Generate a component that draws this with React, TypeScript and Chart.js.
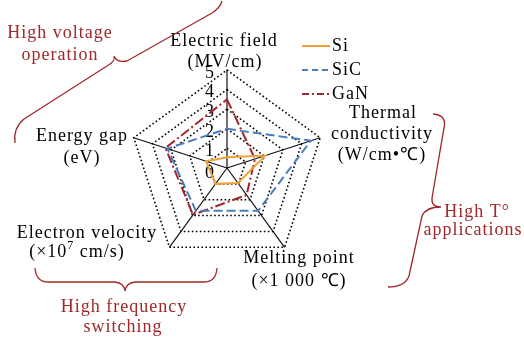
import React, { useEffect, useRef } from 'react';
import { Chart, registerables } from 'chart.js';

Chart.register(...registerables);

const categories = ['Electric field', 'Thermal conductivity', 'Melting point', 'Electron velocity', 'Energy gap'];
const seriesNames = ['Si', 'SiC', 'GaN'];
const siValues = [0.55, 2.05, 0.95, 1.0, 1.12];
const sicValues = [2.0, 4.5, 2.7, 2.7, 3.2];
const ganValues = [3.5, 1.5, 1.7, 2.95, 3.3];
const tickValues = [0, 1, 2, 3, 4, 5];

const ORANGE = '#eea236';
const BLUE = '#4a7ebb';
const DARKRED = '#a3262a';
const ANNOT = '#a0282a';
const FONT = '"Liberation Serif", "Times New Roman", serif';
const SIC_DASH = [9, 4];
const GAN_DASH = [10, 3, 2, 3];

function setSpacing(ctx: any, v: string) {
  try { ctx.letterSpacing = v; } catch (e) { /* ignore */ }
}

function text(ctx: CanvasRenderingContext2D, s: string, x: number, y: number) {
  ctx.fillText(s, x, y);
}

const overlayPlugin = {
  id: 'overlay',
  beforeDatasetsDraw(chart: any) {
    const ctx: CanvasRenderingContext2D = chart.ctx;
    const r = chart.scales.r;
    ctx.save();
    ctx.font = `18px ${FONT}`;
    ctx.fillStyle = '#000';
    ctx.textAlign = 'right';
    ctx.textBaseline = 'middle';
    tickValues.forEach((v) => {
      const d = r.getDistanceFromCenterForValue(v);
      ctx.fillText(String(v), r.xCenter - 13, r.yCenter - d + 3 + (v === 0 ? 2 : 0));
    });
    ctx.restore();
  },
  afterDraw(chart: any) {
    const ctx: CanvasRenderingContext2D = chart.ctx;
    ctx.save();
    ctx.font = `18px ${FONT}`;
    ctx.textAlign = 'center';
    ctx.textBaseline = 'middle';
    setSpacing(ctx, '1px');

    // axis labels
    ctx.fillStyle = '#000';
    text(ctx, 'Electric field', 224, 41);
    text(ctx, '(MV/cm)', 225, 62);
    text(ctx, 'Thermal', 383, 113);
    text(ctx, 'conductivity', 382, 134);
    text(ctx, '(W/cm•℃)', 382, 155);
    text(ctx, 'Melting point', 299, 258);
    text(ctx, '(×1 000 ℃)', 299, 281);
    text(ctx, 'Energy gap', 82, 136);
    text(ctx, '(eV)', 82, 158);
    text(ctx, 'Electron velocity', 87, 233);
    // (×10^7 cm/s)
    {
      const a = '(×10';
      const b = '7';
      const c = ' cm/s)';
      ctx.font = `18px ${FONT}`;
      const wa = ctx.measureText(a).width;
      const wc = ctx.measureText(c).width;
      ctx.font = `12px ${FONT}`;
      const wb = ctx.measureText(b).width;
      const total = wa + wb + wc;
      let x = 77 - total / 2;
      ctx.textAlign = 'left';
      ctx.font = `18px ${FONT}`;
      ctx.fillText(a, x, 252);
      x += wa;
      ctx.font = `12px ${FONT}`;
      ctx.fillText(b, x, 246);
      x += wb;
      ctx.font = `18px ${FONT}`;
      ctx.fillText(c, x, 252);
      ctx.textAlign = 'center';
    }

    // annotations
    ctx.fillStyle = ANNOT;
    text(ctx, 'High voltage', 60, 33);
    text(ctx, 'operation', 60, 55);
    text(ctx, 'High T°', 477, 212);
    text(ctx, 'applications', 473, 230);
    text(ctx, 'High frequency', 124, 307);
    text(ctx, 'switching', 123, 327);

    // braces
    ctx.strokeStyle = ANNOT;
    ctx.lineWidth = 1.3;
    ctx.setLineDash([]);
    ctx.beginPath();
    ctx.moveTo(15, 143);
    ctx.quadraticCurveTo(13, 128, 24, 119);
    ctx.lineTo(107, 66);
    ctx.quadraticCurveTo(116, 61, 114, 56);
    ctx.moveTo(114, 56);
    ctx.quadraticCurveTo(117, 63, 127, 61);
    ctx.lineTo(212, 13);
    ctx.quadraticCurveTo(220, 8, 222, 1);
    ctx.stroke();

    ctx.beginPath();
    ctx.moveTo(433, 114);
    ctx.quadraticCurveTo(447, 115, 444, 128);
    ctx.lineTo(432, 198);
    ctx.quadraticCurveTo(431, 207, 441, 207);
    ctx.moveTo(441, 207);
    ctx.quadraticCurveTo(426, 207, 422, 216);
    ctx.lineTo(409, 276);
    ctx.quadraticCurveTo(405, 287, 388, 287);
    ctx.stroke();

    ctx.beginPath();
    ctx.moveTo(35, 268);
    ctx.quadraticCurveTo(36, 282, 48, 282);
    ctx.lineTo(115, 282);
    ctx.quadraticCurveTo(124, 283, 125, 291);
    ctx.moveTo(125, 291);
    ctx.quadraticCurveTo(126, 283, 135, 282);
    ctx.lineTo(204, 282);
    ctx.quadraticCurveTo(216, 282, 217, 268);
    ctx.stroke();

    // legend
    const legendY = [46, 70, 94];
    const legendColors = [ORANGE, BLUE, DARKRED];
    const legendDash = [[], [6, 4], [7, 3, 2, 3]];
    ctx.lineWidth = 2;
    ctx.textAlign = 'left';
    seriesNames.forEach((name, i) => {
      ctx.strokeStyle = legendColors[i];
      ctx.setLineDash(legendDash[i]);
      ctx.beginPath();
      ctx.moveTo(302, legendY[i]);
      ctx.lineTo(330, legendY[i]);
      ctx.stroke();
      ctx.fillStyle = '#000';
      ctx.fillText(name, 332, legendY[i]);
    });
    ctx.restore();
  },
};

export default function App() {
  const canvasRef = useRef<HTMLCanvasElement | null>(null);

  useEffect(() => {
    const canvas = canvasRef.current;
    if (!canvas) return;
    const chart = new Chart(canvas, {
      type: 'radar',
      data: {
        labels: categories,
        datasets: [
          { label: seriesNames[0], data: siValues, borderColor: ORANGE, borderWidth: 2, fill: false, pointRadius: 0 },
          { label: seriesNames[1], data: sicValues, borderColor: BLUE, borderWidth: 2, borderDash: SIC_DASH, fill: false, pointRadius: 0 },
          { label: seriesNames[2], data: ganValues, borderColor: DARKRED, borderWidth: 2, borderDash: GAN_DASH, fill: false, pointRadius: 0 },
        ],
      },
      options: {
        responsive: false,
        maintainAspectRatio: false,
        animation: false,
        layout: { padding: { left: 129, right: 199, top: 70, bottom: 75 } },
        plugins: { legend: { display: false }, tooltip: { enabled: false } },
        elements: { line: { tension: 0 }, point: { radius: 0 } },
        scales: {
          r: {
            min: 0,
            max: 5,
            ticks: { display: false, stepSize: 1 },
            pointLabels: { display: false },
            grid: { color: '#000', lineWidth: 1.6 },
            border: { dash: [1.6, 2.4] },
            angleLines: { color: '#111', lineWidth: 1.2 },
          },
        },
      } as any,
      plugins: [overlayPlugin],
    });
    return () => chart.destroy();
  }, []);

  return (
    <div style={{ position: 'absolute', left: 0, top: 0, width: 524, height: 341, background: '#fff' }}>
      <canvas ref={canvasRef} width={524} height={341} style={{ display: 'block' }} />
    </div>
  );
}
